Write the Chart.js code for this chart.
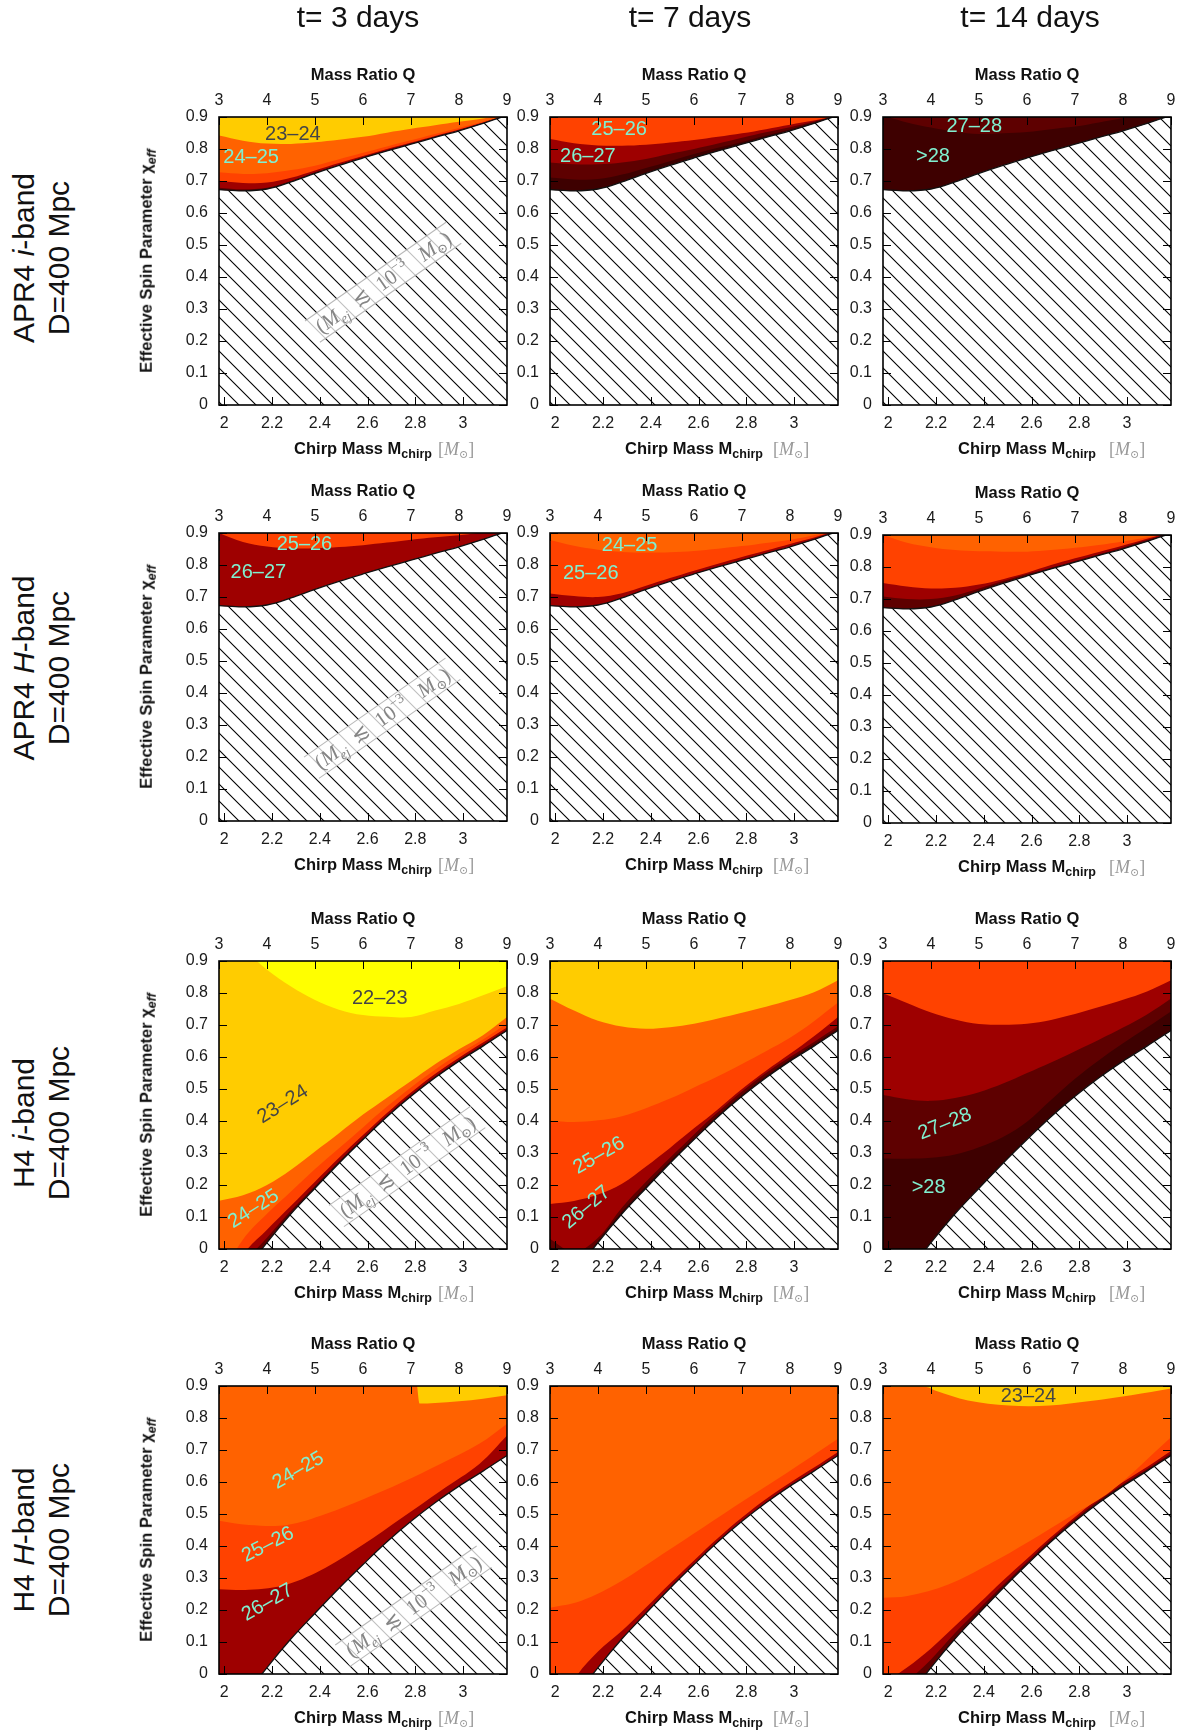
<!DOCTYPE html>
<html>
<head>
<meta charset="utf-8">
<title>Kilonova peak magnitude maps</title>
<script src="https://cdn.jsdelivr.net/npm/chart.js@4.4.1/dist/chart.umd.min.js"></script>
<style>
  html, body { margin: 0; padding: 0; background: #fff; }
  #fig { position: relative; width: 1180px; height: 1730px; overflow: hidden;
         font-family: "Liberation Sans", Arial, Helvetica, sans-serif; color: #111; }
  #fig canvas { position: absolute; }
  .t { position: absolute; white-space: nowrap; }
  .coltitle { font-size: 30px; line-height: 30px; transform: translateX(-50%); }
  .rowlab { font-size: 30px; line-height: 35px; text-align: center; transform: translate(-50%, -50%) rotate(-90deg); }
  .axt { font-size: 16.5px; line-height: 16.5px; font-weight: bold; }
  .axt sub { font-size: 12.5px; line-height: 0; vertical-align: -4px; }
  .qt, .mt { transform: translateX(-50%); }
  .ytitle { transform: translate(-50%, -50%) rotate(-90deg); }
  .unit { position: absolute; left: 100%; top: 0.5px; font-family: "Liberation Serif", "DejaVu Serif", serif;
          font-weight: normal; font-size: 18px; color: #999; }
  .unit sub { font-size: 11px; vertical-align: -3px; }
</style>
</head>
<body>
<div id="fig"></div>
<script>
// ---------- axes / tick labels ----------
const yTicks  = [0, 0.1, 0.2, 0.3, 0.4, 0.5, 0.6, 0.7, 0.8, 0.9];
const mcTicks = [2, 2.2, 2.4, 2.6, 2.8, 3];
const qTicks  = [3, 4, 5, 6, 7, 8, 9];
const MC_RANGE  = [1.978, 3.184];   // chirp mass for Q = 3..9 (1.35 Msun NS)
const Q_RANGE   = [3, 9];
const CHI_RANGE = [0, 0.9];

const columns = ['t= 3 days', 't= 7 days', 't= 14 days'];
const rowNames = [
  'APR4 <i>i</i>-band<br>D=400 Mpc',
  'APR4 <i>H</i>-band<br>D=400 Mpc',
  'H4 <i>i</i>-band<br>D=400 Mpc',
  'H4 <i>H</i>-band<br>D=400 Mpc'
];

// ---------- ejecta cut (M_ej < 1e-3 Msun below these), [Q, chi_eff] ----------
const cutAPR4 = [[3,.673],[3.5,.669],[4,.675],[4.5,.697],[5,.724],[5.5,.749],[6,.772],[6.5,.794],[7,.815],[7.5,.836],[8,.857],[8.5,.880],[9,.905]];
const cutH4   = [[3,-.22],[3.5,-.08],[4,.02],[4.5,.11],[5,.19],[5.5,.268],[6,.342],[6.5,.413],[7,.477],[7.5,.535],[8,.587],[8.5,.634],[9,.683]];

// ---------- magnitude contours, [Q, chi_eff]; a band is filled above its contour ----------
// APR4 i-band
const aI3_24 = [[3,.842],[3.5,.826],[4,.817],[4.5,.816],[5,.821],[5.5,.829],[6,.838],[6.5,.851],[7,.863],[7.5,.874],[8,.885],[8.5,.895],[9,.91]];
const aI3_25 = [[3,.727],[3.5,.722],[4,.724],[4.5,.734],[5,.748],[5.5,.768],[6,.788],[6.5,.808],[7,.827],[7.5,.847],[8,.866],[8.5,.886],[9,.907]];
const aI3_26 = [[3,.701],[3.5,.694],[4,.695],[4.5,.71],[5,.733],[5.5,.756],[6,.778],[6.5,.80],[7,.82],[7.5,.841],[8,.861],[8.5,.883],[9,.906]];
const aI3_27 = [[3,.679],[3.5,.674],[4,.679],[4.5,.70],[5,.727],[5.5,.751],[6,.774],[6.5,.796],[7,.817],[7.5,.838],[8,.859],[8.5,.881],[9,.905]];
const aI7_26 = [[3,.831],[3.5,.818],[4,.811],[4.5,.81],[5,.813],[5.5,.82],[6,.828],[6.5,.838],[7,.849],[7.5,.862],[8,.876],[8.5,.889],[9,.905]];
const aI7_27 = [[3,.758],[3.5,.752],[4,.752],[4.5,.758],[5,.769],[5.5,.785],[6,.80],[6.5,.817],[7,.835],[7.5,.852],[8,.868],[8.5,.886],[9,.906]];
const aI7_28 = [[3,.711],[3.5,.705],[4,.706],[4.5,.72],[5,.741],[5.5,.762],[6,.784],[6.5,.804],[7,.822],[7.5,.842],[8,.861],[8.5,.883],[9,.905]];
const aI14_28 = [[3,.905],[3.5,.883],[4,.867],[4.5,.854],[5,.847],[5.5,.849],[6,.853],[6.5,.862],[7,.870],[7.5,.883],[8,.897],[8.5,.91],[9,.92]];
// APR4 H-band
const aH3_26 = [[3,.90],[3.5,.872],[4,.858],[4.5,.852],[5,.852],[5.5,.856],[6,.862],[6.5,.870],[7,.879],[7.5,.887],[8,.893],[8.5,.902],[9,.91]];
const aH7_25 = [[3,.878],[3.5,.86],[4,.848],[4.5,.841],[5,.839],[5.5,.84],[6,.844],[6.5,.851],[7,.859],[7.5,.869],[8,.879],[8.5,.893],[9,.91]];
const aH7_26 = [[3,.711],[3.5,.703],[4,.70],[4.5,.712],[5,.735],[5.5,.759],[6,.782],[6.5,.804],[7,.825],[7.5,.845],[8,.866],[8.5,.886],[9,.91]];
const aH14_25 = [[3,.90],[3.5,.876],[4,.862],[4.5,.853],[5,.849],[5.5,.848],[6,.848],[6.5,.853],[7,.86],[7.5,.869],[8,.88],[8.5,.893],[9,.91]];
const aH14_26 = [[3,.75],[3.5,.739],[4,.733],[4.5,.735],[5,.745],[5.5,.762],[6,.782],[6.5,.806],[7,.827],[7.5,.847],[8,.867],[8.5,.888],[9,.91]];
const aH14_27 = [[3,.708],[3.5,.70],[4,.70],[4.5,.711],[5,.733],[5.5,.756],[6,.778],[6.5,.798],[7,.819],[7.5,.84],[8,.861],[8.5,.884],[9,.905]];
// H4 i-band
const hI3_23 = [[3.75,.905],[4,.873],[4.5,.82],[5,.778],[5.5,.748],[6,.731],[6.5,.726],[7,.725],[7.5,.745],[8,.766],[8.5,.793],[9,.821]];
const hI3_24 = [[3,.151],[3.5,.168],[4,.20],[4.5,.248],[5,.305],[5.5,.362],[6,.42],[6.5,.473],[7,.525],[7.5,.577],[8,.624],[8.5,.668],[9,.725]];
const hI3_25 = [[3,-.10],[3.5,.03],[4,.11],[4.5,.18],[5,.25],[5.5,.315],[6,.38],[6.5,.445],[7,.505],[7.5,.56],[8,.61],[8.5,.655],[9,.705]];
const hI3_26 = [[3,-.20],[3.5,-.02],[4,.06],[4.5,.135],[5,.21],[5.5,.285],[6,.356],[6.5,.425],[7,.489],[7.5,.547],[8,.598],[8.5,.645],[9,.692]];
const hI3_27 = [[3,-.20],[3.5,-.05],[4,.035],[4.5,.12],[5,.197],[5.5,.274],[6,.347],[6.5,.417],[7,.481],[7.5,.539],[8,.591],[8.5,.638],[9,.687]];
const hI7_24 = [[3,.782],[3.5,.745],[4,.713],[4.5,.695],[5,.688],[5.5,.693],[6,.704],[6.5,.72],[7,.738],[7.5,.757],[8,.778],[8.5,.802],[9,.84]];
const hI7_25 = [[3,.401],[3.5,.397],[4,.402],[4.5,.415],[5,.44],[5.5,.47],[6,.505],[6.5,.54],[7,.578],[7.5,.618],[8,.66],[8.5,.712],[9,.77]];
const hI7_26 = [[3,.141],[3.5,.15],[4,.17],[4.5,.204],[5,.258],[5.5,.316],[6,.377],[6.5,.437],[7,.50],[7.5,.557],[8,.61],[8.5,.665],[9,.725]];
const hI7_27 = [[3,.031],[3.5,-.01],[4,.035],[4.5,.13],[5,.21],[5.5,.285],[6,.358],[6.5,.428],[7,.492],[7.5,.55],[8,.60],[8.5,.647],[9,.696]];
const hI7_28 = [[3,.008],[3.5,-.06],[4,.025],[4.5,.117],[5,.197],[5.5,.274],[6,.347],[6.5,.418],[7,.482],[7.5,.54],[8,.592],[8.5,.639],[9,.688]];
const hI14_26 = [[3,.799],[3.5,.769],[4,.739],[4.5,.717],[5,.703],[5.5,.701],[6,.704],[6.5,.716],[7,.734],[7.5,.756],[8,.779],[8.5,.805],[9,.84]];
const hI14_27 = [[3,.481],[3.5,.468],[4,.463],[4.5,.472],[5,.49],[5.5,.517],[6,.55],[6.5,.583],[7,.618],[7.5,.654],[8,.692],[8.5,.733],[9,.783]];
const hI14_28 = [[3,.283],[3.5,.282],[4,.285],[4.5,.295],[5,.318],[5.5,.35],[6,.398],[6.5,.466],[7,.532],[7.5,.59],[8,.643],[8.5,.692],[9,.742]];
// H4 H-band
const hH3_24 = [[7.12,.91],[7.18,.845],[7.5,.847],[8,.852],[8.5,.86],[9,.871]];
const hH3_25 = [[3,.479],[3.62,.466],[4.42,.466],[5.22,.50],[6.02,.547],[6.82,.599],[7.62,.657],[8.43,.72],[9,.782]];
const hH3_26 = [[3,.265],[3.62,.263],[4.42,.28],[5.22,.332],[6.02,.406],[6.82,.489],[7.62,.573],[8.43,.657],[9,.745]];
const hH7_25 = [[3,.207],[3.64,.228],[4.49,.291],[5.34,.374],[6.19,.458],[7.04,.542],[7.9,.625],[9,.735]];
const hH7_26 = [[3,-.20],[3.5,-.02],[4,.07],[4.5,.135],[5,.208],[5.5,.283],[6,.355],[6.5,.425],[7,.489],[7.5,.547],[8,.598],[8.5,.645],[9,.694]];
const hH14_24 = [[3,.897],[3.9,.897],[4.1,.885],[4.77,.855],[5.62,.839],[6.47,.839],[7.32,.853],[8.17,.871],[9,.892]];
const hH14_25 = [[3,.238],[3.51,.244],[4.36,.28],[5.21,.343],[6.06,.416],[6.91,.494],[7.76,.573],[9,.74]];
const hH14_26 = [[3,-.03],[3.5,.02],[4,.08],[4.5,.15],[5,.22],[5.5,.292],[6,.36],[6.5,.428],[7,.491],[7.5,.549],[8,.60],[8.5,.647],[9,.697]];
const hH14_27 = [[3,-.15],[3.5,-.03],[4,.045],[4.5,.128],[5,.203],[5.5,.278],[6,.35],[6.5,.42],[7,.484],[7.5,.542],[8,.593],[8.5,.64],[9,.689]];

// ---------- palette ----------
const BAND_COLOR = {
  '22-23': '#ffff00', '23-24': '#ffcc00', '24-25': '#ff6200', '25-26': '#ff4200',
  '26-27': '#9e0000', '27-28': '#5e0000', '>28': '#3e0000'
};
const LABEL_CYAN = '#80f0d0', LABEL_DARK = '#454545';

// panels, row by row; bands listed lightest first, base = colour right above the cut
const panels = [
  { cut: cutAPR4, base: '27-28', bands: [['23-24', aI3_24], ['24-25', aI3_25], ['25-26', aI3_26], ['26-27', aI3_27]] },
  { cut: cutAPR4, base: '>28',   bands: [['25-26', aI7_26], ['26-27', aI7_27], ['27-28', aI7_28]] },
  { cut: cutAPR4, base: '>28',   bands: [['27-28', aI14_28]] },
  { cut: cutAPR4, base: '26-27', bands: [['25-26', aH3_26]] },
  { cut: cutAPR4, base: '26-27', bands: [['24-25', aH7_25], ['25-26', aH7_26]] },
  { cut: cutAPR4, base: '27-28', bands: [['24-25', aH14_25], ['25-26', aH14_26], ['26-27', aH14_27]] },
  { cut: cutH4,   base: '27-28', bands: [['22-23', hI3_23], ['23-24', hI3_24], ['24-25', hI3_25], ['25-26', hI3_26], ['26-27', hI3_27]] },
  { cut: cutH4,   base: '>28',   bands: [['23-24', hI7_24], ['24-25', hI7_25], ['25-26', hI7_26], ['26-27', hI7_27], ['27-28', hI7_28]] },
  { cut: cutH4,   base: '>28',   bands: [['25-26', hI14_26], ['26-27', hI14_27], ['27-28', hI14_28]] },
  { cut: cutH4,   base: '26-27', bands: [['23-24', hH3_24], ['24-25', hH3_25], ['25-26', hH3_26]] },
  { cut: cutH4,   base: '26-27', bands: [['24-25', hH7_25], ['25-26', hH7_26]] },
  { cut: cutH4,   base: '27-28', bands: [['23-24', hH14_24], ['24-25', hH14_25], ['25-26', hH14_26], ['26-27', hH14_27]] }
];

// contour labels: text, Q, chi, rotation (deg), dark text?
const bandLabels = [
  [['23\u201324', 4.54, .845, 0, true], ['24\u201325', 3.67, .773, 0]],
  [['25\u201326', 4.44, .862, 0], ['26\u201327', 3.79, .778, 0]],
  [['27\u201328', 4.90, .871, 0], ['>28', 4.04, .777, 0]],
  [['25\u201326', 4.78, .865, 0], ['26\u201327', 3.82, .776, 0]],
  [['24\u201325', 4.66, .861, 0], ['25\u201326', 3.85, .774, 0]],
  [],
  [['22\u201323', 6.35, .783, 0, true], ['23\u201324', 4.33, .452, -32, true], ['24\u201325', 3.72, .125, -32]],
  [['25\u201326', 4.02, .292, -30], ['26\u201327', 3.76, .130, -40]],
  [['27\u201328', 4.29, .390, -22], ['>28', 3.95, .192, 0]],
  [['24\u201325', 4.65, .636, -30], ['25\u201326', 4.02, .404, -27], ['26\u201327', 4.01, .223, -30]],
  [],
  [['23\u201324', 6.03, .866, 0, true]]
];
// "(M_ej <~ 1e-3 Msun)" note in the left column, [Q, chi]
const notePos = [[6.42, .384], [6.40, .321], [6.92, .258], [7.05, .212]];
const NOTE_ANGLE = -35;

// ---------- layout ----------
const COL_X = [219, 550, 883];
const ROW_Y = [117, 533, 961, 1386];
const PW = 288, PH = 288;
const AX_L = 70, AX_T = 40, AX_B = 40, PAD_R = 16;
const COL_TITLE_X = [358, 690, 1030];
const ROW_LABEL_Y = [258, 668, 1123, 1540];
const UNIT_GAP = [6, 10, 13];
const FONT = '"Liberation Sans", Arial, Helvetica, sans-serif';

function makeHatch() {
  const s = 17, c = document.createElement('canvas');
  c.width = s; c.height = s;
  const g = c.getContext('2d');
  g.fillStyle = '#fff'; g.fillRect(0, 0, s, s);
  g.strokeStyle = '#000'; g.lineWidth = 1.1;
  g.beginPath();
  for (const k of [-s, 0, s]) { g.moveTo(k - 1, -1); g.lineTo(k + s + 1, s + 1); }
  g.stroke();
  return g.createPattern(c, 'repeat');
}

function drawNote(ctx, x, y) {
  const fam = '"Liberation Serif", "DejaVu Serif", serif';
  const runs = [['(', 21, '', 0], ['M', 21, 'italic ', 0], ['ej', 14, 'italic ', 5],
                ['  \u2272  ', 21, '', 0], ['10', 21, '', 0], ['\u22123', 14, '', -9],
                ['   M', 21, 'italic ', 0], ['\u2299', 13, '', 4], [')', 21, '', 0]];
  ctx.save();
  ctx.translate(x, y);
  ctx.rotate(NOTE_ANGLE * Math.PI / 180);
  let w = 0;
  const widths = runs.map(r => { ctx.font = r[2] + r[1] + 'px ' + fam; const m = ctx.measureText(r[0]).width; w += m; return m; });
  ctx.fillStyle = 'rgba(255,255,255,0.75)';
  ctx.fillRect(-w / 2 - 6, -13, w + 12, 26);
  ctx.strokeStyle = 'rgba(175,175,175,0.9)'; ctx.lineWidth = 1;
  ctx.beginPath();
  ctx.moveTo(-w / 2 - 6, -13); ctx.lineTo(w / 2 + 6, -13);
  ctx.moveTo(-w / 2 - 6, 13); ctx.lineTo(w / 2 + 6, 13);
  ctx.stroke();
  ctx.fillStyle = '#858585'; ctx.textBaseline = 'alphabetic'; ctx.textAlign = 'left';
  let cx = -w / 2;
  runs.forEach((r, i) => { ctx.font = r[2] + r[1] + 'px ' + fam; ctx.fillText(r[0], cx, 7 + r[3]); cx += widths[i]; });
  ctx.restore();
}

// base colour, labels, frame and inward ticks (gnuplot look)
const panelDecor = {
  id: 'panelDecor',
  beforeDatasetsDraw(chart, _a, o) {
    const { ctx, chartArea: a } = chart;
    ctx.save(); ctx.fillStyle = o.base; ctx.fillRect(a.left, a.top, a.width, a.height); ctx.restore();
  },
  afterDatasetsDraw(chart, _a, o) {
    const { ctx, chartArea: a, scales: { q, y } } = chart;
    ctx.save();
    ctx.beginPath(); ctx.rect(a.left, a.top, a.width, a.height); ctx.clip();
    if (o.note) drawNote(ctx, q.getPixelForValue(o.note[0]), y.getPixelForValue(o.note[1]));
    ctx.font = '20px ' + FONT; ctx.textAlign = 'center'; ctx.textBaseline = 'middle';
    for (const [txt, qv, cv, rot, dark] of o.labels) {
      ctx.save();
      ctx.translate(q.getPixelForValue(qv), y.getPixelForValue(cv));
      ctx.rotate((rot || 0) * Math.PI / 180);
      ctx.fillStyle = dark ? LABEL_DARK : LABEL_CYAN;
      ctx.fillText(txt, 0, 0);
      ctx.restore();
    }
    ctx.restore();
  },
  afterDraw(chart) {
    const { ctx, chartArea: a, scales: { x, q, y } } = chart;
    const tl = 8;
    ctx.save();
    ctx.strokeStyle = '#000'; ctx.lineWidth = 1;
    ctx.beginPath();
    for (const v of yTicks) {
      const py = Math.round(y.getPixelForValue(v)) + 0.5;
      ctx.moveTo(a.left, py); ctx.lineTo(a.left + tl, py);
      ctx.moveTo(a.right, py); ctx.lineTo(a.right - tl, py);
    }
    for (const v of mcTicks) {
      const px = Math.round(x.getPixelForValue(v)) + 0.5;
      ctx.moveTo(px, a.bottom); ctx.lineTo(px, a.bottom - tl);
    }
    for (const v of qTicks) {
      const px = Math.round(q.getPixelForValue(v)) + 0.5;
      ctx.moveTo(px, a.top); ctx.lineTo(px, a.top + tl);
    }
    ctx.stroke();
    ctx.lineWidth = 1.6;
    ctx.strokeRect(a.left, a.top, a.width, a.height);
    ctx.restore();
  }
};

const fig = document.getElementById('fig');
const HATCH = makeHatch();
const fmt = v => String(Math.round(v * 10) / 10);
const tickFont = { family: FONT, size: 16 };

function addText(cls, html, x, y) {
  const d = document.createElement('div');
  d.className = 't ' + cls; d.innerHTML = html;
  d.style.left = x + 'px'; d.style.top = y + 'px';
  fig.appendChild(d);
  return d;
}

// smooth curves; the steep gold edge of H4 H-band t=3 keeps monotone splines
function curveOpts(edge) {
  const steep = edge.some((pt, i) => i > 0 && Math.abs(pt[1] - edge[i - 1][1]) / (pt[0] - edge[i - 1][0]) > 0.6);
  return steep ? { cubicInterpolationMode: 'monotone' } : { cubicInterpolationMode: 'default', tension: 0.35 };
}

function bandDataset(edge, color) {
  return Object.assign({
    data: edge.map(([qv, cv]) => ({ x: qv, y: cv })),
    xAxisID: 'q', yAxisID: 'y',
    backgroundColor: color, borderColor: 'rgba(0,0,0,0)', borderWidth: 0,
    pointRadius: 0, fill: 'end'
  }, curveOpts(edge));
}

panels.forEach((p, k) => {
  const r = Math.floor(k / 3), c = k % 3;
  const L = COL_X[c], T = ROW_Y[r] + (r === 1 && c === 2 ? 2 : 0);
  const cv = document.createElement('canvas');
  cv.width = AX_L + PW + PAD_R; cv.height = AX_T + PH + AX_B;
  cv.style.left = (L - AX_L) + 'px'; cv.style.top = (T - AX_T) + 'px';
  fig.appendChild(cv);

  const datasets = [Object.assign({
    data: p.cut.map(([qv, chi]) => ({ x: qv, y: chi })),
    xAxisID: 'q', yAxisID: 'y',
    backgroundColor: HATCH, borderColor: '#111', borderWidth: 1.3,
    pointRadius: 0, fill: 'start'
  }, curveOpts(p.cut))];
  for (const [band, edge] of p.bands) datasets.push(bandDataset(edge, BAND_COLOR[band]));

  new Chart(cv.getContext('2d'), {
    type: 'line',
    data: { datasets },
    options: {
      responsive: false, animation: false, events: [],
      layout: { padding: { left: 0, right: PAD_R, top: 0, bottom: 0 } },
      plugins: {
        legend: { display: false }, tooltip: { enabled: false },
        panelDecor: { base: BAND_COLOR[p.base], labels: bandLabels[k], note: c === 0 ? notePos[r] : null }
      },
      scales: {
        x: {
          type: 'linear', position: 'bottom', min: MC_RANGE[0], max: MC_RANGE[1],
          afterBuildTicks: s => { s.ticks = mcTicks.map(v => ({ value: v })); },
          afterFit: s => { s.height = AX_B; },
          ticks: { padding: 9, maxRotation: 0, autoSkip: false, font: tickFont, color: '#1a1a1a', callback: fmt },
          grid: { display: false, drawTicks: false }, border: { display: false }
        },
        q: {
          type: 'linear', position: 'top', min: Q_RANGE[0], max: Q_RANGE[1],
          afterBuildTicks: s => { s.ticks = qTicks.map(v => ({ value: v })); },
          afterFit: s => { s.height = AX_T; },
          ticks: { padding: 7, maxRotation: 0, autoSkip: false, font: tickFont, color: '#1a1a1a', callback: fmt },
          grid: { display: false, drawTicks: false }, border: { display: false }
        },
        y: {
          type: 'linear', position: 'left', min: CHI_RANGE[0], max: CHI_RANGE[1],
          afterBuildTicks: s => { s.ticks = yTicks.map(v => ({ value: v })); },
          afterFit: s => { s.width = AX_L; },
          ticks: { padding: 11, autoSkip: false, font: tickFont, color: '#1a1a1a', callback: fmt },
          grid: { display: false, drawTicks: false }, border: { display: false }
        }
      }
    },
    plugins: [panelDecor]
  });

  // axis titles
  addText('axt qt', 'Mass Ratio Q', L + PW / 2, T - 51);
  addText('axt mt', 'Chirp Mass M<sub>chirp</sub><span class="unit" style="margin-left:' + UNIT_GAP[c] +
          'px">[<i>M</i><sub>\u2299</sub>]</span>', L + PW / 2, T + PH + 35);
  if (c === 0) addText('axt ytitle', 'Effective Spin Parameter \u03c7<sub><i>eff</i></sub>', 146, T + PH / 2);
});

columns.forEach((txt, c) => addText('coltitle', txt, COL_TITLE_X[c], 2));
rowNames.forEach((html, r) => addText('rowlab', html, 41, ROW_LABEL_Y[r]));
</script>
</body>
</html>
